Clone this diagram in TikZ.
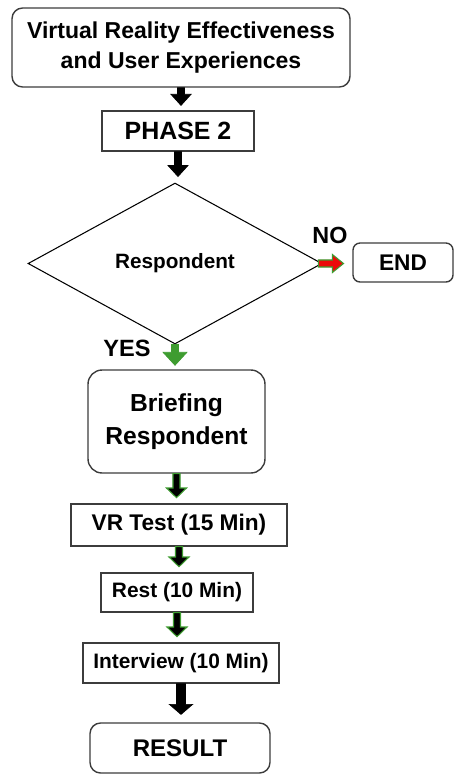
\documentclass[tikz,border=0pt]{standalone}
\usepackage{fontspec}
\setmainfont{Liberation Sans}
\usetikzlibrary{shapes.geometric,calc}

\definecolor{arrgreen}{RGB}{62,156,48}
\definecolor{arrred}{RGB}{236,10,10}
\definecolor{boxline}{RGB}{60,60,60}

\tikzset{
  arrhalf/.store in=\arrhalf, headhalf/.store in=\headhalf, headlen/.store in=\headlen,
  arrhalf=2pt, headhalf=5.7pt, headlen=6.3pt,
  box/.style={draw=boxline, line width=0.8pt, inner sep=0pt, align=center, font=\bfseries},
  rbox/.style={box, rounded corners=6pt},
  % block arrows: filled polygon from start down (or right) to the tip
  downarrow/.style={fill=black, draw=black, line width=0.4pt, to path={let \p1=(\tikztostart), \p2=(\tikztotarget) in
     (\x1-\arrhalf,\y1) -- (\x1-\arrhalf,\y2+\headlen) -- (\x1-\headhalf,\y2+\headlen) -- (\x1,\y2)
     -- (\x1+\headhalf,\y2+\headlen) -- (\x1+\arrhalf,\y2+\headlen) -- (\x1+\arrhalf,\y1) -- cycle}},
  rightarrow/.style={line width=0.6pt, to path={let \p1=(\tikztostart), \p2=(\tikztotarget) in
     (\x1,\y1-\arrhalf) -- (\x2-\headlen,\y1-\arrhalf) -- (\x2-\headlen,\y1-\headhalf) -- (\x2,\y1)
     -- (\x2-\headlen,\y1+\headhalf) -- (\x2-\headlen,\y1+\arrhalf) -- (\x1,\y1+\arrhalf) -- cycle}},
  greenedge/.style={downarrow, draw=arrgreen, line width=0.6pt},
}

\begin{document}
\begin{tikzpicture}[x=0.02cm, y=-0.02cm]
\useasboundingbox (0,0) rectangle (455,775);

\node[rbox, minimum width=6.76cm, minimum height=1.58cm, font=\bfseries\fontsize{13.1}{17}\selectfont] (top) at (181,47.5) {Virtual Reality Effectiveness\\and User Experiences};
\node[box, minimum width=3.04cm, minimum height=0.8cm, font=\bfseries\fontsize{14.2}{17}\selectfont] (phase) at (178,131) {PHASE 2};
\node[diamond, draw=black, line width=0.6pt, inner sep=0pt, minimum width=5.88cm, minimum height=3.22cm, font=\bfseries\fontsize{11.8}{14}\selectfont] (dec) at (175,263.5) {Respondent};
\node[rbox, rounded corners=4pt, minimum width=2cm, minimum height=0.78cm, font=\bfseries\fontsize{12.9}{15}\selectfont] (end) at (403,262.5) {END};
\node[font=\bfseries\fontsize{13.3}{15}\selectfont] (no) at (330,235) {NO};
\node[font=\bfseries\fontsize{13.4}{15}\selectfont] (yes) at (127,348) {YES};
\node[rbox, rounded corners=8pt, minimum width=3.54cm, minimum height=2.06cm, font=\bfseries\fontsize{14}{18.8}\selectfont] (brief) at (176.5,421.5) {Briefing\\Respondent};
\node[box, minimum width=4.32cm, minimum height=0.84cm, font=\bfseries\fontsize{12.9}{15}\selectfont] (vr) at (179,525) {VR Test (15 Min)};
\node[box, minimum width=3.04cm, minimum height=0.78cm, font=\bfseries\fontsize{11.9}{14}\selectfont] (rest) at (177,592.5) {Rest (10 Min)};
\node[box, minimum width=3.92cm, minimum height=0.8cm, font=\bfseries\fontsize{11.9}{14}\selectfont] (intv) at (181,663) {Interview (10 Min)};
\node[rbox, minimum width=3.6cm, minimum height=1cm, font=\bfseries\fontsize{13.7}{16}\selectfont] (result) at (180,748) {RESULT};

% arrows
\draw[downarrow] (top.south) to ([yshift=2.8pt]phase.north);
\draw[downarrow] (phase.south) to ([yshift=3.4pt]dec.north);
\draw[rightarrow, fill=arrred, draw=arrgreen, headhalf=5.1pt] ([xshift=-2.3pt]dec.east) to ([xshift=-5pt]end.west);
\draw[downarrow, fill=arrgreen, draw=arrgreen, headhalf=6.8pt, headlen=7.4pt] (dec.south) to ([yshift=2.3pt]brief.north);
\foreach \a/\b in {brief/vr, vr/rest, rest/intv}
  \draw[greenedge, headlen=5.5pt] (\a.south) to ([yshift=3.2pt]\b.north);
\draw[downarrow, arrhalf=2.6pt, headhalf=6.6pt, headlen=5.7pt] (intv.south) to ([yshift=4.5pt]result.north);
\end{tikzpicture}
\end{document}
